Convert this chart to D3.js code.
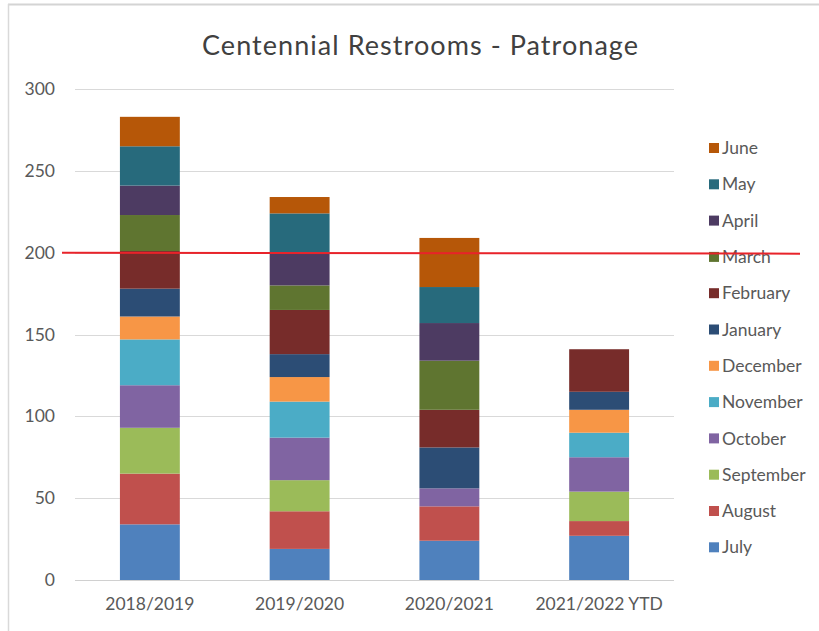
<!DOCTYPE html>
<html>
<head>
<meta charset="utf-8">
<script src="https://cdn.jsdelivr.net/npm/d3@7/dist/d3.min.js"></script>
<style>
  html, body { margin: 0; padding: 0; background: #fff; }
  svg { display: block; }
  text { font-family: Lato, "Open Sans", sans-serif; }
</style>
</head>
<body>
<script>
// Seasons on the x axis
const seasons = ["2018/2019", "2019/2020", "2020/2021", "2021/2022 YTD"];
// Months in stacking order (bottom to top)
const months = ["July", "August", "September", "October", "November", "December",
                "January", "February", "March", "April", "May", "June"];
// Monthly patronage per season, one array per month
const July      = [34, 19, 24, 27];
const August    = [31, 23, 21, 9];
const September = [28, 19, 0, 18];
const October   = [26, 26, 11, 21];
const November  = [28, 22, 0, 15];
const December  = [14, 15, 0, 14];
const January   = [17, 14, 25, 11];
const February  = [23, 27, 23, 26];
const March     = [22, 15, 30, 0];
const April     = [18, 20, 23, 0];
const May       = [24, 24, 22, 0];
const June      = [18, 10, 30, 0];
const yTicks = [0, 50, 100, 150, 200, 250, 300];
const target = 200;

const monthColors = ["#4F81BD", "#C0504D", "#9BBB59", "#8064A2", "#4BACC6", "#F79646",
                     "#2C4D75", "#772C2A", "#5F7530", "#4D3B62", "#276A7C", "#B65708"];
const seriesValues = [July, August, September, October, November, December,
                      January, February, March, April, May, June];

const W = 819, H = 631;
const FS = 17.5;
const svg = d3.select("body").append("svg").attr("width", W).attr("height", H);

// Outer chart frame (top and left edges visible)
svg.append("line").attr("x1", 8).attr("x2", W).attr("y1", 4.5).attr("y2", 4.5)
  .attr("stroke", "#d4d4d4").attr("stroke-width", 2);
svg.append("line").attr("x1", 8.5).attr("x2", 8.5).attr("y1", 4).attr("y2", H)
  .attr("stroke", "#d9d9d9").attr("stroke-width", 1.5);

const plot = { left: 75, right: 674, top: 89, bottom: 580 };

const x = d3.scaleBand().domain(seasons).range([plot.left, plot.right]).paddingInner(0.6).paddingOuter(0.3);
const y = d3.scaleLinear().domain([0, 300]).range([plot.bottom, plot.top]);

// Rows for stacking
const table = seasons.map((s, i) => {
  const row = { season: s };
  months.forEach((m, k) => { row[m] = seriesValues[k][i]; });
  return row;
});
const stacked = d3.stack().keys(months)(table);

// Gridlines
svg.append("g").selectAll("line").data(yTicks).join("line")
  .attr("x1", plot.left).attr("x2", plot.right)
  .attr("y1", d => Math.round(y(d)) + 0.5).attr("y2", d => Math.round(y(d)) + 0.5)
  .attr("stroke", d => d === 0 ? "#d0d0d0" : "#d9d9d9").attr("stroke-width", 1);

// Y axis labels
const yAxis = d3.axisLeft(y).tickValues(yTicks).tickSize(0).tickPadding(0);
const gy = svg.append("g").attr("transform", `translate(${plot.left - 20},0)`).call(yAxis);
gy.select(".domain").remove();
gy.selectAll("text").attr("font-size", FS).attr("fill", "#595959")
  .style("font-family", "Lato, 'Open Sans', sans-serif");

// X axis labels
const xAxis = d3.axisBottom(x).tickSize(0).tickPadding(0);
const gx = svg.append("g").attr("transform", `translate(0,${plot.bottom + 18})`).call(xAxis);
gx.select(".domain").remove();
gx.selectAll("text").attr("font-size", FS).attr("fill", "#595959")
  .style("font-family", "Lato, 'Open Sans', sans-serif");

// Stacked bars
svg.append("g").selectAll("g").data(stacked).join("g")
  .attr("fill", (d, i) => monthColors[i])
  .selectAll("rect").data(d => d).join("rect")
  .attr("x", d => x(d.data.season))
  .attr("width", x.bandwidth())
  .attr("y", d => y(d[1]))
  .attr("height", d => Math.max(0, y(d[0]) - y(d[1])));

// Title
svg.append("text").attr("x", 420).attr("y", 55).attr("text-anchor", "middle")
  .attr("font-size", 27).attr("fill", "#404040")
  .attr("textLength", 436).attr("lengthAdjust", "spacing")
  .text("Centennial Restrooms - Patronage");

// Legend (June on top)
const legendMonths = months.slice().reverse();
const lg = svg.append("g");
const legendItems = lg.selectAll("g").data(legendMonths).join("g")
  .attr("transform", (d, i) => `translate(709,${148 + i * 36.3})`);
legendItems.append("rect").attr("x", 0).attr("y", -5).attr("width", 10).attr("height", 10)
  .attr("fill", d => monthColors[months.indexOf(d)]);
legendItems.append("text").attr("x", 13).attr("y", 0).attr("dy", "0.35em")
  .attr("font-size", FS).attr("fill", "#595959").text(d => d);

// Target line drawn across the whole chart
svg.append("line").attr("x1", 62).attr("x2", 800)
  .attr("y1", y(target)).attr("y2", y(target) + 1)
  .attr("stroke", "#e8232a").attr("stroke-width", 2);
</script>
</body>
</html>
